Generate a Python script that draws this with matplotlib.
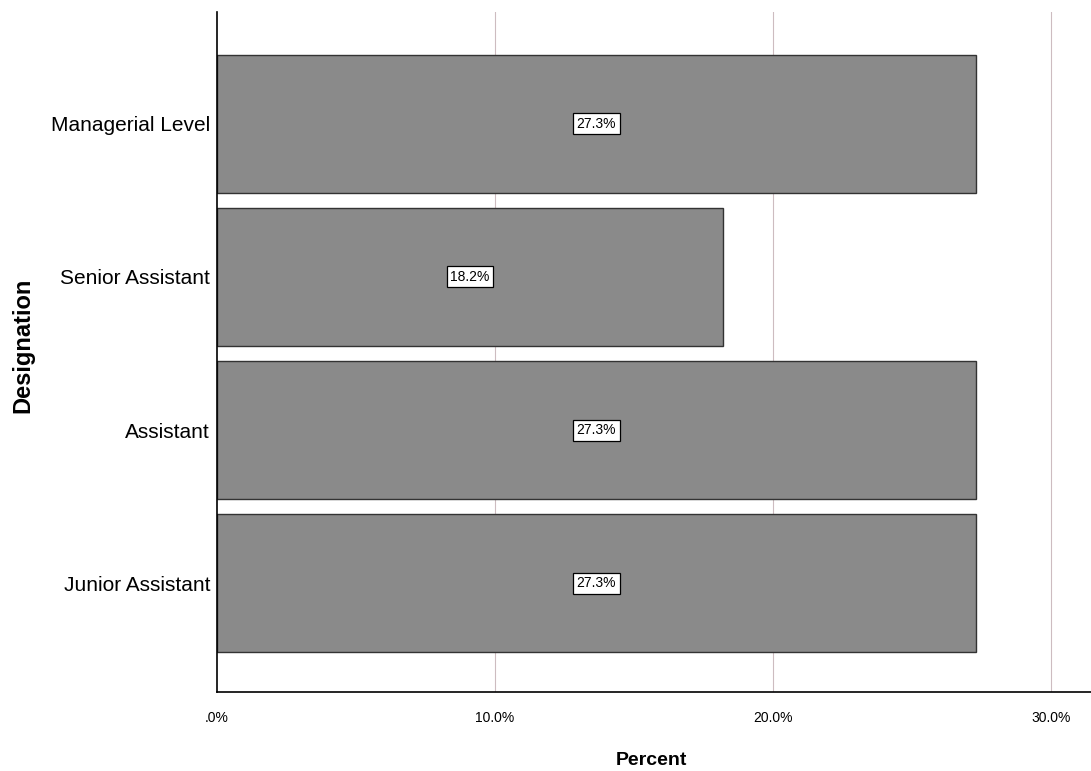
import matplotlib.pyplot as plt
import numpy as np

# Data
designations = ['Junior Assistant', 'Assistant', 'Senior Assistant', 'Managerial Level']
percents = [27.3, 27.3, 18.2, 27.3]
xticks = [0, 10, 20, 30]
xtick_labels = ['.0%', '10.0%', '20.0%', '30.0%']

plt.rcParams['font.family'] = ['Liberation Sans', 'DejaVu Sans']

fig = plt.figure(figsize=(10.91, 7.71), dpi=100)
ax = fig.add_axes([0.1989, 0.1025, 0.8011, 0.8819])

y = np.arange(len(designations))
ax.barh(y, percents, height=0.9, color='#8a8a8a', edgecolor='#333333',
        linewidth=1.0, zorder=2)

for yi, p in zip(y, percents):
    ax.text(p / 2, yi, f'{p:.1f}%', ha='center', va='center', fontsize=10,
            bbox=dict(boxstyle='square,pad=0.25', facecolor='white',
                      edgecolor='black', linewidth=0.9), zorder=3)

ax.set_xlim(0, 31.45)
ax.set_ylim(-0.71, 3.73)
ax.set_xticks(xticks)
ax.set_xticklabels(xtick_labels, fontsize=10)
ax.set_yticks(y)
ax.set_yticklabels(designations, fontsize=15)
ax.tick_params(axis='both', length=0)
ax.tick_params(axis='x', pad=14)
ax.tick_params(axis='y', pad=5)

for xv in xticks[1:]:
    ax.axvline(xv, color='#cdbcc0', linewidth=0.8, zorder=1)

for side in ['top', 'right']:
    ax.spines[side].set_visible(False)
ax.spines['left'].set_linewidth(1.2)
ax.spines['bottom'].set_linewidth(1.2)

ax.set_xlabel('Percent', fontsize=14, fontweight='bold')
ax.set_ylabel('Designation', fontsize=17, fontweight='bold')
ax.xaxis.set_label_coords(0.497, -0.089)
ax.yaxis.set_label_coords(-0.2085, 0.51)

fig.savefig('out.png', dpi=100)
